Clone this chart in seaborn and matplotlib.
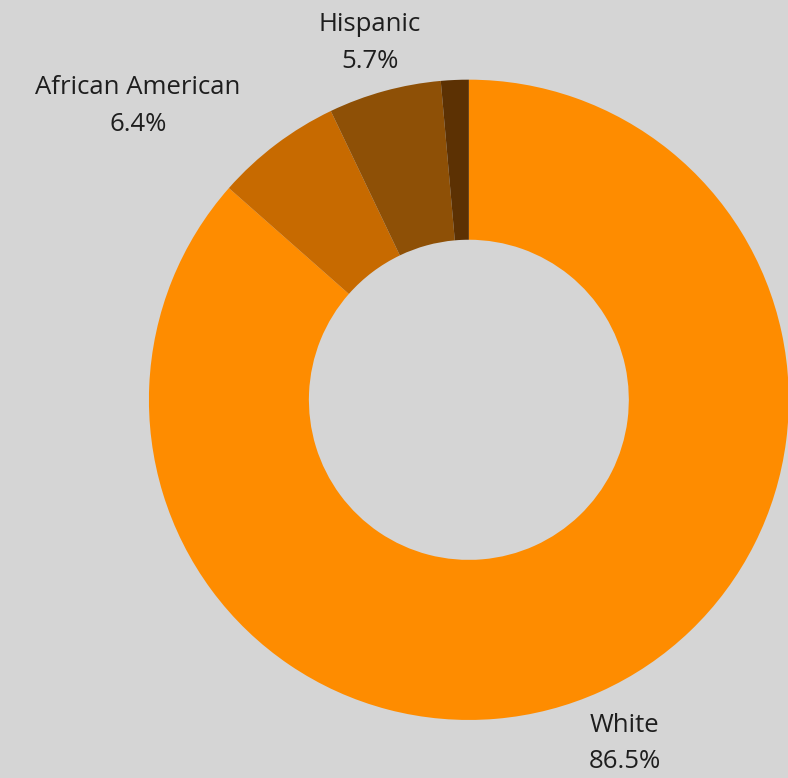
import matplotlib
matplotlib.use("Agg")
import matplotlib.pyplot as plt
import seaborn as sns

# Share of each group (percent), drawn clockwise from 12 o'clock
groups = ["White", "African American", "Hispanic", "Other"]
shares = [86.5, 6.4, 5.7, 1.4]
labeled = ["White", "African American", "Hispanic"]
colors = ["#fe8c00", "#c76a00", "#8e5006", "#5c3103"]

sns.set_theme(style="white")
plt.rcParams["font.family"] = ["Open Sans", "DejaVu Sans"]

bg = "#d5d5d5"
fig = plt.figure(figsize=(7.88, 7.78), dpi=100, facecolor=bg)
ax = fig.add_axes([0.189, 0.0746, 0.812, 0.823])
ax.set_facecolor(bg)

wedges, _ = ax.pie(
    shares,
    colors=sns.color_palette(colors),
    startangle=90,
    counterclock=False,
    radius=1.0,
    wedgeprops=dict(width=0.5, linewidth=0),
)
ax.set_xlim(-1, 1)
ax.set_ylim(-1, 1)
ax.set_aspect("auto")
ax.axis("off")

# Label anchors (data coordinates around the ring)
label_pos = {
    "White": (0.4875, -1.016),
    "African American": (-1.034, 0.975),
    "Hispanic": (-0.309, 1.172),
}
for name, val in zip(groups, shares):
    if name not in labeled:
        continue
    x, y = label_pos[name]
    ax.text(x, y, name, ha="center", va="center", fontsize=18.5,
            color="#1e1e1e", clip_on=False)
    ax.text(x, y - 0.114, f"{val:.1f}%", ha="center", va="center",
            fontsize=18.5, color="#1e1e1e", clip_on=False)

fig.savefig("out.png", dpi=100, facecolor=bg)
